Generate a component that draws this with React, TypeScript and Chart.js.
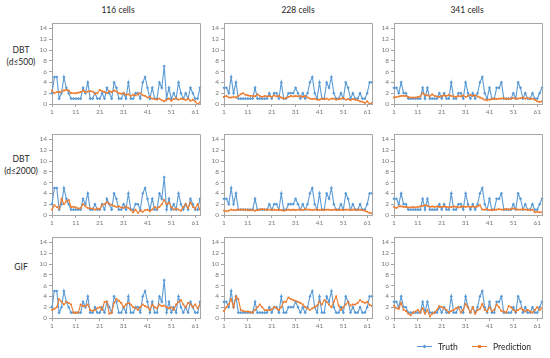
import React, { useEffect, useRef } from "react";
import { Chart, registerables } from "chart.js";

Chart.register(...registerables);

// ---------- data ----------
const columnTitles = ["116 cells", "228 cells", "341 cells"];
const rowTitles = [["DBT", "(d≤500)"], ["DBT", "(d≤2000)"], ["GIF"]];
const seriesNames = ["Truth", "Prediction"];
const cellIds = Array.from({ length: 63 }, (_, i) => String(i + 1));
const xTickLabels = ["1", "11", "21", "31", "41", "51", "61"];
const yTickValues = [0, 2, 4, 6, 8, 10, 12, 14];

const truth116 = [
  2, 5, 5, 1, 2, 5, 3, 2, 1, 1,
  1, 1, 1, 3, 2, 4, 1, 1, 2, 1,
  1, 2, 1, 3, 2, 1, 4, 3, 1, 1,
  2, 1, 4, 1, 1, 2, 2, 1, 4, 5,
  3, 1, 3, 1, 1, 4, 3, 7, 1, 3,
  1, 2, 1, 4, 2, 1, 2, 1, 3, 2,
  1, 1, 3,
];
const truth228 = [
  3, 3, 2, 5, 2, 4, 1, 1, 1, 1,
  1, 1, 1, 3, 1, 1, 1, 1, 1, 2,
  1, 2, 2, 1, 4, 1, 1, 2, 2, 2,
  3, 2, 1, 2, 1, 2, 4, 5, 2, 1,
  4, 1, 1, 4, 3, 5, 2, 1, 1, 2,
  1, 4, 3, 1, 2, 1, 1, 2, 1, 1,
  2, 4, 4,
];
const truth341 = [
  3, 3, 2, 4, 2, 2, 1, 1, 1, 1,
  1, 1, 3, 1, 3, 1, 1, 1, 1, 2,
  1, 2, 1, 1, 4, 1, 1, 2, 2, 1,
  4, 2, 1, 2, 1, 2, 4, 5, 2, 1,
  3, 1, 1, 3, 3, 4, 1, 1, 1, 1,
  2, 1, 4, 3, 1, 2, 1, 1, 2, 1,
  1, 2, 3,
];

const predDbt500_116 = [
  2.5, 2.0, 2.2, 2.2, 2.3, 2.5, 2.6, 2.5, 2.0, 2.0,
  2.0, 2.1, 2.2, 2.5, 2.2, 2.3, 2.4, 2.3, 1.9, 2.0,
  2.6, 2.4, 2.2, 2.0, 2.4, 2.2, 2.5, 2.3, 2.0, 1.9,
  2.0, 1.7, 1.8, 1.5, 1.7, 1.6, 1.8, 2.0, 1.6, 1.5,
  1.2, 1.3, 1.0, 0.9, 0.8, 1.0, 0.7, 0.5, 0.8, 1.0,
  0.6, 0.9, 1.1, 0.8, 1.0, 0.9, 0.7, 1.0, 0.6, 0.8,
  0.5, 0.0, 0.3,
];
const predDbt500_228 = [
  1.3, 1.5, 1.2, 1.2, 1.3, 1.2, 1.5, 1.8, 2.0, 1.7,
  1.6, 1.5, 1.5, 1.4, 1.8, 1.5, 1.3, 1.5, 1.4, 1.5,
  1.3, 1.6, 1.4, 1.5, 1.2, 1.0, 1.1, 1.3, 1.5, 1.4,
  1.5, 1.4, 1.5, 1.3, 1.5, 1.2, 1.0, 0.9, 1.0, 0.8,
  0.8, 1.0, 0.9, 1.0, 0.8, 1.0, 1.0, 0.8, 0.9, 1.0,
  1.1, 0.8, 0.9, 0.7, 0.9, 0.8, 0.7, 0.5, 0.4, 0.2,
  0.5, 0.0, 0.2,
];
const predDbt500_341 = [
  1.2, 1.3, 1.4, 1.5, 1.5, 1.5, 1.3, 1.2, 1.2, 1.2,
  1.3, 1.4, 2.0, 1.7, 1.6, 1.4, 1.8, 1.5, 1.4, 1.3,
  1.5, 1.6, 1.5, 1.7, 1.5, 1.4, 1.3, 1.5, 1.4, 1.6,
  1.3, 1.5, 1.7, 1.5, 1.6, 1.4, 1.2, 1.0, 0.8, 0.7,
  0.8, 0.9, 1.0, 0.9, 1.0, 1.0, 1.1, 0.9, 1.0, 1.0,
  1.1, 1.0, 1.0, 1.1, 1.2, 1.0, 1.1, 0.9, 1.0, 0.8,
  0.5, 0.4, 0.5,
];
const predDbt2000_116 = [
  1.0, 1.8, 1.5, 1.2, 3.0, 2.0, 2.5, 2.8, 1.5, 1.5,
  1.4, 1.2, 1.3, 2.0, 1.6, 1.3, 1.2, 1.2, 1.0, 1.2,
  1.1, 1.8, 2.0, 2.4, 2.0, 1.9, 1.7, 1.5, 1.6, 1.4,
  1.3, 1.6, 1.3, 1.0, 0.5, 1.0, 0.4, 0.8, 0.6, 0.9,
  1.0, 0.7, 1.0, 1.5, 1.2, 1.5, 2.0, 2.8, 2.0, 2.3,
  1.5, 1.0, 1.2, 1.0, 0.8, 1.5, 2.0, 1.3, 2.3, 1.5,
  1.2, 2.0, 1.0,
];
const predDbt2000_228 = [
  0.8, 0.7, 0.8, 1.0, 0.9, 0.9, 1.0, 1.0, 1.0, 1.0,
  0.9, 0.9, 0.9, 0.8, 0.9, 1.0, 1.1, 1.0, 1.0, 1.0,
  0.9, 1.0, 0.9, 1.0, 0.9, 0.8, 0.9, 1.0, 0.9, 1.0,
  0.9, 1.0, 1.0, 0.9, 1.1, 1.0, 1.0, 0.9, 1.0, 1.0,
  0.9, 1.0, 0.9, 1.0, 1.0, 0.9, 1.0, 1.0, 0.9, 1.0,
  0.9, 1.0, 1.0, 0.9, 1.0, 1.0, 0.9, 1.0, 0.9, 0.8,
  0.6, 0.4, 0.3,
];
const predDbt2000_341 = [
  1.5, 1.3, 1.6, 1.6, 1.5, 1.5, 1.4, 1.4, 1.5, 1.4,
  1.5, 1.6, 1.7, 1.8, 1.7, 1.5, 1.6, 1.5, 1.6, 1.5,
  1.5, 1.6, 1.5, 1.4, 1.5, 1.6, 1.5, 1.4, 1.5, 1.6,
  1.5, 1.6, 1.5, 1.6, 1.5, 1.6, 1.8, 1.0, 1.0, 1.1,
  0.9, 0.9, 1.0, 1.0, 1.1, 1.0, 1.0, 1.1, 1.0, 1.1,
  1.2, 1.1, 1.0, 1.0, 1.1, 1.0, 1.0, 0.9, 1.0, 0.5,
  0.6, 0.5, 0.5,
];
const predGif_116 = [
  1.5, 1.7, 2.0, 3.5, 3.0, 2.5, 3.0, 2.8, 2.5, 1.0,
  1.0, 1.0, 2.5, 2.2, 2.2, 2.5, 1.5, 1.3, 1.5, 1.8,
  2.0, 1.5, 3.0, 3.0, 0.8, 1.0, 2.8, 3.5, 3.2, 2.8,
  2.0, 2.5, 2.8, 2.5, 2.0, 1.8, 1.5, 2.0, 2.5, 2.2,
  2.0, 1.5, 2.5, 2.0, 1.8, 2.5, 2.2, 2.3, 2.0, 1.8,
  2.0, 1.5, 2.5, 3.0, 3.3, 2.5, 2.0, 2.8, 2.5, 2.0,
  2.5, 1.8, 2.5,
];
const predGif_228 = [
  1.3, 2.0, 2.5, 3.5, 2.0, 4.0, 3.5, 1.5, 1.3, 1.2,
  1.2, 1.1, 1.0, 1.5, 2.0, 2.5, 2.0, 1.5, 1.4, 1.5,
  1.6, 2.0, 1.8, 1.5, 2.0, 3.0, 3.0, 3.8, 3.5, 3.3,
  3.2, 3.0, 2.8, 2.5, 2.0, 1.8, 1.5, 1.8, 2.0, 2.3,
  3.0, 2.5, 3.3, 3.0, 2.5, 2.0, 3.0, 4.0, 2.3, 1.5,
  2.0, 2.5, 3.0, 2.3, 2.5, 2.5, 2.8, 3.3, 3.0, 2.8,
  3.0, 2.4, 2.2,
];
const predGif_341 = [
  2.3, 1.8, 1.7, 2.8, 1.5, 1.3, 0.8, 0.5, 1.0, 1.2,
  1.5, 1.0, 1.8, 0.8, 1.5, 0.3, 0.8, 1.0, 1.5, 2.2,
  2.0, 1.8, 1.5, 1.0, 1.3, 1.5, 1.8, 2.0, 1.0, 1.5,
  2.6, 2.0, 1.0, 2.0, 0.8, 1.5, 1.7, 2.6, 1.5, 1.2,
  2.0, 1.3, 1.5, 2.5, 2.0, 1.3, 1.2, 1.0, 2.2, 2.0,
  1.5, 1.2, 1.5, 1.8, 1.5, 1.2, 1.5, 1.2, 1.0, 1.5,
  2.0, 1.5, 1.8,
];

const truthByColumn = [truth116, truth228, truth341];
const predByRow = [
  [predDbt500_116, predDbt500_228, predDbt500_341],
  [predDbt2000_116, predDbt2000_228, predDbt2000_341],
  [predGif_116, predGif_228, predGif_341],
];

// ---------- style / layout ----------
const BLUE = "#5B9BD5";
const ORANGE = "#ED7D31";
const AXIS = "#a6a6a6";
const TICK = "#7a7a7a";
const FONT = "Lato, 'Liberation Sans', sans-serif";

const colLeft = [52, 224, 394];
const rowTop = [23, 134, 237];
const plotW = 148;
const plotH = 81;
const yAxisW = 30;
const xAxisH = 16;
const padTop = 8;
const padRight = 6;

const framePlugin = {
  id: "frame",
  afterDraw(chart: any) {
    const { ctx, chartArea } = chart;
    const t = Math.round(chartArea.top - 0.5) + 0.5;
    const r = Math.round(chartArea.right - 0.5) + 0.5;
    const l = Math.round(chartArea.left - 0.5) + 0.5;
    const b = Math.round(chartArea.bottom - 0.5) + 0.5;
    ctx.save();
    ctx.strokeStyle = AXIS;
    ctx.lineWidth = 1;
    ctx.beginPath();
    ctx.moveTo(l, t);
    ctx.lineTo(r, t);
    ctx.lineTo(r, b);
    ctx.stroke();
    ctx.restore();
  },
};

function Panel({ truth, pred, left, top }: { truth: number[]; pred: number[]; left: number; top: number }) {
  const ref = useRef<HTMLCanvasElement>(null);
  useEffect(() => {
    const chart = new Chart(ref.current as HTMLCanvasElement, {
      type: "line",
      data: {
        labels: cellIds,
        datasets: [
          {
            label: seriesNames[0],
            data: truth,
            borderColor: BLUE,
            backgroundColor: BLUE,
            borderWidth: 1.1,
            pointStyle: "rectRot",
            pointRadius: 1.6,
            pointBorderWidth: 0,
            tension: 0,
            order: 1,
          },
          {
            label: seriesNames[1],
            data: pred,
            borderColor: ORANGE,
            backgroundColor: ORANGE,
            borderWidth: 1.1,
            pointStyle: "rect",
            pointRadius: 1.3,
            pointBorderWidth: 0,
            tension: 0,
            order: 0,
          },
        ],
      },
      options: {
        animation: false,
        responsive: false,
        devicePixelRatio: 1,
        layout: { padding: { top: padTop, right: padRight, left: 0, bottom: 0 } },
        plugins: { legend: { display: false }, tooltip: { enabled: false } },
        scales: {
          x: {
            type: "category",
            offset: false,
            border: { color: AXIS, width: 1 },
            grid: {
              drawOnChartArea: false,
              tickLength: 3,
              color: (c: any) => (xTickLabels.includes(cellIds[c.index]) ? AXIS : "rgba(0,0,0,0)"),
            },
            ticks: {
              autoSkip: false,
              maxRotation: 0,
              minRotation: 0,
              padding: 1,
              color: TICK,
              font: { size: 6.5, family: FONT },
              callback: (_v: any, i: number) => (xTickLabels.includes(cellIds[i]) ? cellIds[i] : ""),
            },
            afterFit: (s: any) => {
              s.height = xAxisH;
            },
          },
          y: {
            min: 0,
            max: 15,
            border: { color: AXIS, width: 1 },
            grid: { drawOnChartArea: false, tickLength: 3, color: AXIS },
            ticks: {
              stepSize: 2,
              padding: 2,
              color: TICK,
              font: { size: 6.5, family: FONT },
            },
            afterBuildTicks: (ax: any) => {
              ax.ticks = yTickValues.map((v) => ({ value: v }));
            },
            afterFit: (s: any) => {
              s.width = yAxisW;
            },
          },
        },
      },
      plugins: [framePlugin],
    } as any);
    return () => chart.destroy();
  }, []);
  return (
    <canvas
      ref={ref}
      width={yAxisW + plotW + padRight}
      height={padTop + plotH + xAxisH}
      style={{ position: "absolute", left: left - yAxisW, top: top - padTop, display: "block" }}
    />
  );
}

const textBase: React.CSSProperties = {
  position: "absolute",
  fontFamily: FONT,
  color: "#262626",
  whiteSpace: "nowrap",
  transform: "translate(-50%, -50%)",
  lineHeight: "1",
};

const titleX = [118, 298, 467];
const rowLabelY = [
  [50, 62],
  [159, 171],
  [267],
];

export default function App() {
  return (
    <div style={{ position: "absolute", left: 0, top: 0, width: 550, height: 358, background: "#fff", overflow: "hidden" }}>
      {columnTitles.map((t, c) => (
        <div key={"t" + c} style={{ ...textBase, left: titleX[c], top: 9.5, fontSize: 8.5 }}>
          {t}
        </div>
      ))}
      {rowTitles.map((lines, r) =>
        lines.map((ln, k) => (
          <div key={"r" + r + k} style={{ ...textBase, left: 21, top: rowLabelY[r][k], fontSize: 8.5 }}>
            {ln}
          </div>
        ))
      )}
      {predByRow.map((row, r) =>
        row.map((pred, c) => (
          <Panel key={r + "-" + c} truth={truthByColumn[c]} pred={pred} left={colLeft[c]} top={rowTop[r]} />
        ))
      )}
      {/* legend */}
      <div style={{ position: "absolute", left: 417, top: 346, width: 15, height: 1.2, background: BLUE }} />
      <div
        style={{ position: "absolute", left: 422.5, top: 344.6, width: 3, height: 3, background: BLUE, transform: "rotate(45deg)" }}
      />
      <div style={{ ...textBase, transform: "translate(0, -50%)", left: 438, top: 347, fontSize: 8.5 }}>{seriesNames[0]}</div>
      <div style={{ position: "absolute", left: 472, top: 346, width: 15, height: 1.2, background: ORANGE }} />
      <div style={{ position: "absolute", left: 478, top: 345, width: 3, height: 3, background: ORANGE }} />
      <div style={{ ...textBase, transform: "translate(0, -50%)", left: 493, top: 347, fontSize: 8.5 }}>{seriesNames[1]}</div>
    </div>
  );
}
